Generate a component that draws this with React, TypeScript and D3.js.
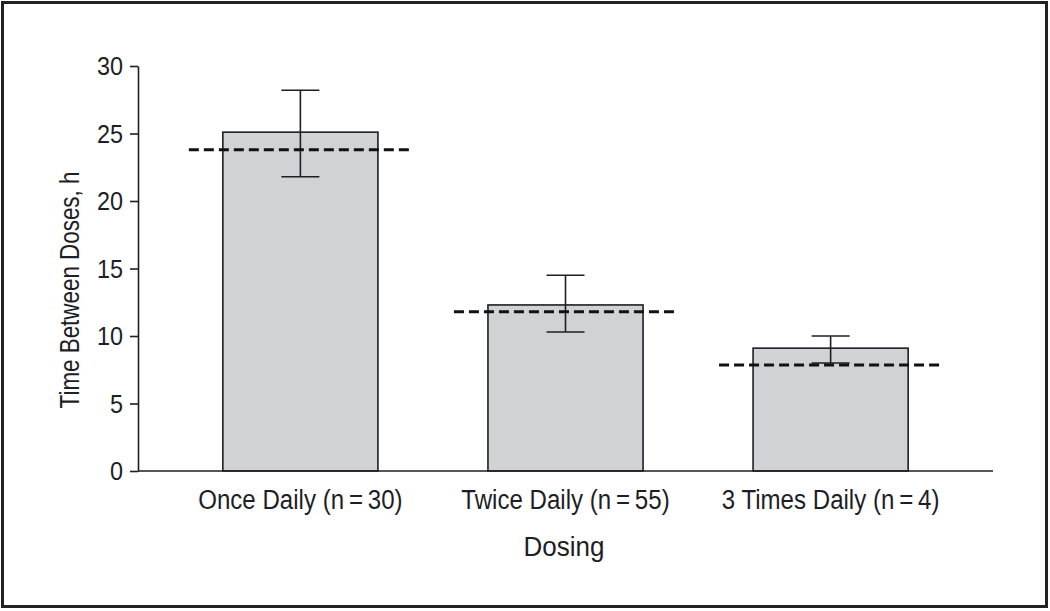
import React, { useEffect, useRef } from 'react';
import * as d3 from 'd3';

const categories = ['Once Daily (n\u2009=\u200930)', 'Twice Daily (n\u2009=\u200955)', '3 Times Daily (n\u2009=\u20094)'];
const meanValues = [25.1, 12.3, 9.1];
const errLow = [21.8, 10.3, 8.0];
const errHigh = [28.2, 14.5, 10.0];
const expectedValues = [23.8, 11.8, 7.85];
const yTicks = [0, 5, 10, 15, 20, 25, 30];

const App = () => {
  const svgRef = useRef<SVGSVGElement>(null);

  useEffect(() => {
    const svg = d3.select(svgRef.current);
    svg.selectAll('*').remove();

    // no narrow font installed, so squeeze Liberation Sans horizontally
    const font = '"Liberation Sans", Arial, sans-serif';
    const ink = '#1e1e26';

    // outer frame
    svg.append('rect')
      .attr('x', 2.5).attr('y', 2.5)
      .attr('width', 1044).attr('height', 604)
      .attr('fill', '#fff')
      .attr('stroke', '#222').attr('stroke-width', 3);

    const x = d3.scaleBand<string>()
      .domain(categories)
      .range([138, 993])
      .paddingInner(0.415)
      .paddingOuter(0.32);

    const y = d3.scaleLinear().domain([0, 30]).range([471, 66]);

    const data = categories.map((c, i) => ({
      c, mean: meanValues[i], lo: errLow[i], hi: errHigh[i], exp: expectedValues[i]
    }));

    // bars
    svg.append('g').selectAll('rect')
      .data(data)
      .enter()
      .append('rect')
      .attr('x', d => x(d.c)!)
      .attr('y', d => y(d.mean))
      .attr('width', x.bandwidth())
      .attr('height', d => y(0) - y(d.mean))
      .attr('fill', '#d1d2d4')
      .attr('stroke', ink)
      .attr('stroke-width', 1.6);

    // error bars
    const capHalf = 19;
    const err = svg.append('g').attr('stroke', ink).attr('stroke-width', 1.6);
    data.forEach(d => {
      const cx = x(d.c)! + x.bandwidth() / 2;
      err.append('line').attr('x1', cx).attr('x2', cx).attr('y1', y(d.hi)).attr('y2', y(d.lo));
      err.append('line').attr('x1', cx - capHalf).attr('x2', cx + capHalf).attr('y1', y(d.hi)).attr('y2', y(d.hi));
      err.append('line').attr('x1', cx - capHalf).attr('x2', cx + capHalf).attr('y1', y(d.lo)).attr('y2', y(d.lo));
    });

    // expected dosing interval, dashed
    svg.append('g').selectAll('line')
      .data(data)
      .enter()
      .append('line')
      .attr('x1', d => x(d.c)! - 34)
      .attr('x2', d => x(d.c)! + x.bandwidth() + 35)
      .attr('y1', d => y(d.exp))
      .attr('y2', d => y(d.exp))
      .attr('stroke', '#111')
      .attr('stroke-width', 3)
      .attr('stroke-dasharray', '10,5');

    // y axis (lines only, labels drawn below)
    const yAxis = svg.append('g')
      .attr('transform', 'translate(138,0)')
      .call(d3.axisLeft(y).tickValues(yTicks).tickSize(8).tickSizeOuter(0).tickFormat(() => ''));
    yAxis.select('.domain').attr('stroke', ink).attr('stroke-width', 1.6);
    yAxis.selectAll('.tick line').attr('stroke', ink).attr('stroke-width', 1.6);

    svg.append('g').selectAll('text')
      .data(yTicks)
      .enter()
      .append('text')
      .attr('transform', d => `translate(123,${y(d) + 9}) scale(0.9,1)`)
      .attr('text-anchor', 'end')
      .attr('fill', ink)
      .style('font-family', font)
      .style('font-size', '26px')
      .text(d => d);

    // x axis line
    svg.append('line')
      .attr('x1', 138).attr('x2', 993)
      .attr('y1', y(0)).attr('y2', y(0))
      .attr('stroke', ink).attr('stroke-width', 1.6);

    // x labels
    svg.append('g').selectAll('text')
      .data(categories)
      .enter()
      .append('text')
      .attr('transform', d => `translate(${x(d)! + x.bandwidth() / 2},509) scale(0.86,1)`)
      .attr('text-anchor', 'middle')
      .attr('fill', ink)
      .style('font-family', font)
      .style('font-size', '28px')
      .text(d => d);

    svg.append('text')
      .attr('transform', 'translate(564,556) scale(0.93,1)')
      .attr('text-anchor', 'middle')
      .attr('fill', ink)
      .style('font-family', font)
      .style('font-size', '28px')
      .text('Dosing');

    svg.append('text')
      .attr('transform', 'translate(79,290) rotate(-90) scale(0.8,1)')
      .attr('text-anchor', 'middle')
      .attr('fill', ink)
      .style('font-family', font)
      .style('font-size', '28px')
      .text('Time Between Doses, h');
  }, []);

  return (
    <div style={{ position: 'absolute', top: 0, left: 0 }}>
      <svg ref={svgRef} width={1050} height={611} style={{ display: 'block' }} />
    </div>
  );
};

export default App;
